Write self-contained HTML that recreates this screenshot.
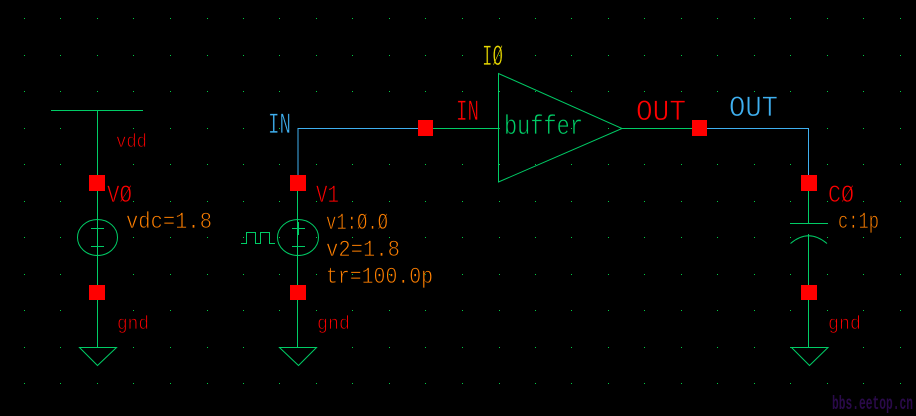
<!DOCTYPE html>
<html><head><meta charset="utf-8"><style>
html,body{margin:0;padding:0;background:#000;width:916px;height:416px;overflow:hidden}
svg{display:block}
text{font-family:"Liberation Mono",monospace;stroke:#000;stroke-width:.7;paint-order:fill stroke}
.r{fill:#ff0000}.o{fill:#ff8000}.b{fill:#3fb0f0}.y{fill:#e8d800}.g{fill:#00cc66}
.w{stroke:#00cc66;stroke-width:1;fill:none}
.u{stroke:#3fb0f0;stroke-width:1;fill:none}
</style></head><body>
<svg xmlns="http://www.w3.org/2000/svg" width="916" height="416" viewBox="0 0 916 416">
<rect width="916" height="416" fill="#000"/>
<defs><g id="c" fill="#00cc44"><rect x="24" y="18" width="1" height="1"/><rect x="24" y="55" width="1" height="1"/><rect x="24" y="91" width="1" height="1"/><rect x="24" y="128" width="1" height="1"/><rect x="24" y="164" width="1" height="1"/><rect x="24" y="201" width="1" height="1"/><rect x="24" y="237" width="1" height="1"/><rect x="24" y="274" width="1" height="1"/><rect x="24" y="310" width="1" height="1"/><rect x="24" y="347" width="1" height="1"/><rect x="24" y="383" width="1" height="1"/></g></defs>
<use href="#c"/><use href="#c" x="36"/><use href="#c" x="73"/><use href="#c" x="109"/><use href="#c" x="146"/><use href="#c" x="183"/><use href="#c" x="219"/><use href="#c" x="255"/><use href="#c" x="292"/><use href="#c" x="328"/><use href="#c" x="365"/><use href="#c" x="401"/><use href="#c" x="438"/><use href="#c" x="475"/><use href="#c" x="511"/><use href="#c" x="547"/><use href="#c" x="584"/><use href="#c" x="620"/><use href="#c" x="657"/><use href="#c" x="693"/><use href="#c" x="730"/><use href="#c" x="766"/><use href="#c" x="803"/><use href="#c" x="839"/><use href="#c" x="876"/>

<!-- V0 -->
<g shape-rendering="crispEdges">
<path class="w" d="M51 110.5H143M97.5 110V347"/>
<path class="w" d="M91 228.5H104M97.5 222V235M91 246.5H104"/>
</g>
<ellipse class="w" cx="97.5" cy="237.5" rx="20" ry="18"/>
<path class="w" d="M79.5 347.5H116.5L97.5 365.5Z"/>

<!-- V1 -->
<g shape-rendering="crispEdges">
<path class="u" d="M298 175V128.5H418"/>
<path class="w" d="M297.5 191V347M433 128.5H498"/>
<path class="w" d="M292 228.5H305M298.5 222V235M292 246.5H305"/>
<path class="w" d="M241 243.5H246.5V232.5H255.5V243.5H260.5V232.5H269.5V243.5H275"/>
</g>
<ellipse class="w" cx="298" cy="237.5" rx="20.5" ry="18"/>
<path class="w" d="M279.5 347.5H316.5L298.5 365.5Z"/>

<!-- buffer -->
<path class="w" d="M498.5 73.5V182L622 128.5Z"/>
<g shape-rendering="crispEdges">
<path class="w" d="M622 128.5H692"/>
<path class="u" d="M707 128.5H808.5V175"/>
<path class="w" d="M808.5 191V223M790 223.5H828M808.5 234V347"/>
</g>
<path class="w" d="M790.5 243.5Q808.5 228 827 243.5"/>
<path class="w" d="M791.5 347.5H828L809.5 365.5Z"/>

<!-- pins -->
<g fill="#ff0000" shape-rendering="crispEdges">
<rect x="89" y="175" width="16" height="16"/><rect x="89" y="285" width="16" height="15"/>
<rect x="290" y="175" width="16" height="16"/><rect x="290" y="285" width="16" height="15"/>
<rect x="418" y="120" width="15" height="16"/><rect x="692" y="120" width="15" height="16"/>
<rect x="801" y="175" width="16" height="16"/><rect x="801" y="285" width="16" height="15"/>
</g>

<!-- labels -->
<text class="r" x="116" y="147" font-size="19" textLength="31" lengthAdjust="spacingAndGlyphs">vdd</text>
<text class="r" x="107" y="202" font-size="25" textLength="25" lengthAdjust="spacingAndGlyphs">VØ</text>
<text class="o" x="126" y="228" font-size="23" textLength="86" lengthAdjust="spacingAndGlyphs">vdc=1.8</text>
<text class="r" x="117" y="329" font-size="19" textLength="32" lengthAdjust="spacingAndGlyphs">gnd</text>

<text class="b" x="268" y="133" font-size="30" textLength="23" lengthAdjust="spacingAndGlyphs">IN</text>
<text class="r" x="316" y="202" font-size="25" textLength="23" lengthAdjust="spacingAndGlyphs">V1</text>
<text class="o" x="326" y="229" font-size="23" textLength="62" lengthAdjust="spacingAndGlyphs">v1:Ø.Ø</text>
<text class="o" x="326" y="256" font-size="23" textLength="74" lengthAdjust="spacingAndGlyphs">v2=1.8</text>
<text class="o" x="326" y="283" font-size="23" textLength="107" lengthAdjust="spacingAndGlyphs">tr=100.0p</text>
<text class="r" x="317" y="329" font-size="19" textLength="33" lengthAdjust="spacingAndGlyphs">gnd</text>

<text class="y" x="482" y="65" font-size="30" textLength="21" lengthAdjust="spacingAndGlyphs">IØ</text>
<text class="r" x="456" y="120" font-size="30" textLength="23" lengthAdjust="spacingAndGlyphs">IN</text>
<text class="g" x="504" y="134" font-size="28" textLength="79" lengthAdjust="spacingAndGlyphs">buffer</text>
<text class="r" x="636" y="120" font-size="30" textLength="50" lengthAdjust="spacingAndGlyphs">OUT</text>
<text class="b" x="729" y="116" font-size="30" textLength="49" lengthAdjust="spacingAndGlyphs">OUT</text>

<text class="r" x="828" y="202" font-size="25" textLength="26" lengthAdjust="spacingAndGlyphs">CØ</text>
<text class="o" x="838" y="228" font-size="23" textLength="41" lengthAdjust="spacingAndGlyphs">c:1p</text>
<text class="r" x="828" y="329" font-size="19" textLength="33" lengthAdjust="spacingAndGlyphs">gnd</text>

<text x="832" y="409" font-size="19" font-weight="bold" textLength="81" lengthAdjust="spacingAndGlyphs" style="fill:#2a0a4a;stroke:none">bbs.eetop.cn</text>
</svg>
</body></html>
